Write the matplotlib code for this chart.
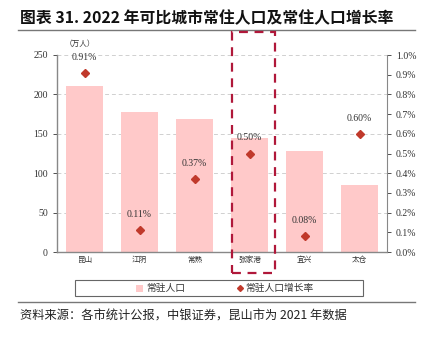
import matplotlib
matplotlib.use("Agg")
import matplotlib.pyplot as plt
from matplotlib.patches import Rectangle
from matplotlib.lines import Line2D
import matplotlib.transforms as mtransforms
import numpy as np

plt.rcParams['font.family'] = ['Liberation Serif', 'Noto Sans CJK SC']

cities = ["昆山", "江阴", "常熟", "张家港", "宜兴", "太仓"]
population = [211, 178, 169, 145, 128, 85]
growth = [0.91, 0.11, 0.37, 0.50, 0.08, 0.60]
left_ticks = [0, 50, 100, 150, 200, 250]
right_ticks = [0.0, 0.1, 0.2, 0.3, 0.4, 0.5, 0.6, 0.7, 0.8, 0.9, 1.0]

bar_color = "#FFC9C9"
mark_color = "#C0392B"
box_color = "#B0183A"
cjk = ['Noto Sans CJK SC', 'DejaVu Sans']

fig = plt.figure(figsize=(4.28, 3.40), dpi=100)
ax = fig.add_axes([57/428, 1-252/340, 330/428, 197/340])
x = np.arange(len(cities))
ax.bar(x, population, width=0.69, color=bar_color, zorder=2)
ax.set_xlim(-0.5, len(cities) - 0.5)
ax.set_ylim(0, 250)
ax.set_yticks(left_ticks)
ax.set_xticks(x)
ax.set_xticklabels(cities, family=cjk, fontsize=5.5, color="#333333")
ax.tick_params(axis='y', labelsize=7, colors="#333333", length=3, width=0.6)
ax.tick_params(axis='x', length=0, pad=3)
ax.grid(axis='y', linestyle=(0, (4, 3)), color="#d0d0d0", linewidth=0.7, zorder=0)
for s in ['top', 'right']:
    ax.spines[s].set_visible(False)
ax.spines['left'].set_color("#888888")
ax.spines['bottom'].set_color("#888888")
ax.spines['left'].set_linewidth(1.0)
ax.spines['bottom'].set_linewidth(1.0)

ax2 = ax.twinx()
ax2.set_ylim(0, 1.0)
ax2.set_yticks(right_ticks)
ax2.set_yticklabels([f"{t:.1f}%" for t in right_ticks])
ax2.tick_params(axis='y', labelsize=7, colors="#333333", length=3, width=0.6)
ax2.plot(x, growth, linestyle='none', marker='D', markersize=4, color=mark_color, zorder=5)
for xi, g in zip(x, growth):
    ax2.annotate(f"{g:.2f}%", (xi, g), xytext=(0, 8), textcoords='offset points',
                 ha='center', va='bottom', fontsize=7, color="#333333")
for s in ['top', 'left', 'bottom']:
    ax2.spines[s].set_visible(False)
ax2.spines['right'].set_color("#888888")

fig.text(80/428, 1-44/340, "（万人）", family=cjk, fontsize=5.5, ha='center', va='center', color="#333333")

# title
fig.text(20/428, 1-18/340, "图表 31. 2022 年可比城市常住人口及常住人口增长率",
         family=cjk, fontsize=11.4, fontweight='bold', ha='left', va='center', color="#111111")
fig.add_artist(Line2D([18/428, 415/428], [1-30/340, 1-30/340], color="#777777", lw=1.0))

# highlight box
trans = mtransforms.blended_transform_factory(ax.transData, fig.transFigure)
rect = Rectangle((2.68, 1-273/340), 0.78, (273-32)/340, transform=trans, fill=False,
                 edgecolor=box_color, linestyle=(0, (4, 3)), linewidth=1.6, clip_on=False, zorder=10)
fig.add_artist(rect)

# legend box
fig.add_artist(Rectangle((75/428, 1-296/340), 288/428, 16/340, transform=fig.transFigure,
                         fill=False, edgecolor="#666666", linewidth=0.8))
fig.add_artist(Rectangle((136/428, 1-291.5/340), 7/428, 7/340, transform=fig.transFigure,
                         facecolor=bar_color, edgecolor='none'))
fig.text(146/428, 1-288/340, "常驻人口", family=cjk, fontsize=7, ha='left', va='center', color="#333333")
fig.add_artist(Line2D([240/428], [1-288/340], marker='D', markersize=3, color=mark_color, linestyle='none'))
fig.text(245/428, 1-288/340, "常驻人口增长率", family=cjk, fontsize=7, ha='left', va='center', color="#333333")

# source
fig.add_artist(Line2D([18/428, 415/428], [1-302/340, 1-302/340], color="#777777", lw=1.0))
fig.text(20/428, 1-316/340, "资料来源：各市统计公报，中银证券，昆山市为 2021 年数据",
         family=cjk, fontsize=8.8, style='italic', ha='left', va='center', color="#222222")

fig.savefig("out.png", dpi=100)
